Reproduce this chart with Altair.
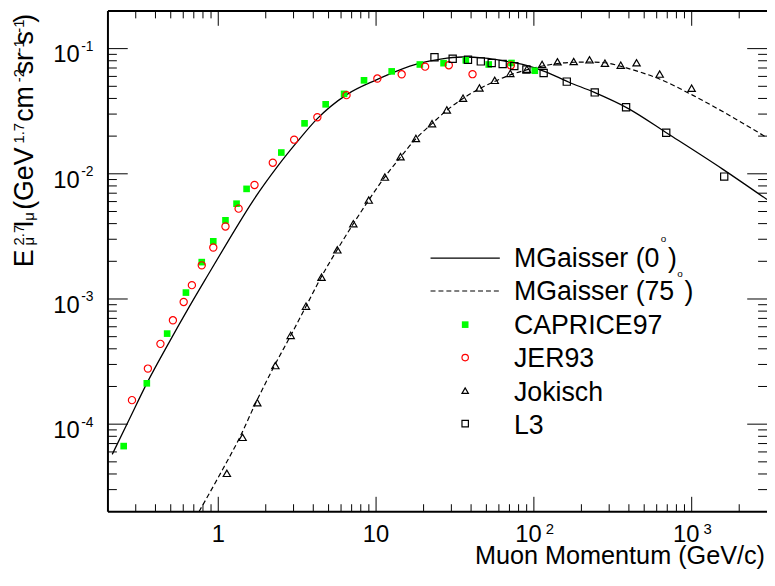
import altair as alt
import pandas as pd

# ---------------- data ----------------
caprice_p = [0.2516, 0.3526, 0.4745, 0.624, 0.786, 0.930, 1.111, 1.306, 1.512, 2.509, 3.522,
             4.793, 6.27, 8.387, 12.56, 18.94, 26.77, 37.03, 51.74, 72.1, 101.3]
caprice_f = [6.68e-5, 2.12e-4, 5.29e-4, 1.125e-3, 1.97e-3, 2.89e-3, 4.25e-3, 5.77e-3, 7.58e-3,
             0.01479, 0.0253, 0.0359, 0.0435, 0.0558, 0.0658, 0.0747, 0.0765, 0.0807, 0.0747,
             0.0768, 0.0666]

jer_p = [0.284, 0.3582, 0.4301, 0.516, 0.6038, 0.6806, 0.786, 0.930, 1.111, 1.346, 1.697, 2.216,
         3.027, 4.246, 6.498, 10.19, 14.53, 20.45, 28.9, 40.85, 71.4]
jer_f = [1.556e-4, 2.78e-4, 4.38e-4, 6.76e-4, 9.47e-4, 1.29e-3, 1.857e-3, 2.576e-3, 3.797e-3,
         5.27e-3, 8.14e-3, 0.01226, 0.01874, 0.02833, 0.0425, 0.0577, 0.0624, 0.0718, 0.0737,
         0.0625, 0.0734]

jok_p = [1.134, 1.426, 1.767, 2.301, 2.877, 3.597, 4.511, 5.683, 7.178, 8.989, 11.37, 14.28, 17.88,
         22.62, 28.08, 35.56, 45.18, 56.49, 70.86, 90.28, 112.7, 141.1, 178.8, 225.2, 281.9, 355.1,
         447.3, 626.8, 998.6]
jok_f = [4.05e-5, 7.85e-5, 1.484e-4, 2.938e-4, 5.12e-4, 8.77e-4, 1.492e-3, 2.471e-3, 3.99e-3,
         6.17e-3, 9.42e-3, 0.0137, 0.01915, 0.02517, 0.03235, 0.04024, 0.04855, 0.0558, 0.0634,
         0.0686, 0.0747, 0.0785, 0.0789, 0.0814, 0.0765, 0.0738, 0.0771, 0.0626, 0.0483]

l3_p = [23.45, 30.58, 38.22, 46.1, 54.03, 63.41, 75.16, 89.65, 115.3, 161.6, 243.0, 383.9, 689.5, 1607]
l3_f = [0.0854, 0.0829, 0.0814, 0.0791, 0.0767, 0.0754, 0.0725, 0.0682, 0.0638, 0.0545, 0.0447,
        0.0340, 0.02129, 9.50e-3]

gs0_p = [0.2129, 0.2732, 0.3526, 0.4863, 0.6489, 0.8659, 1.155, 1.656, 2.375, 3.169, 4.229, 6.516,
         10.04, 13.40, 19.22, 25.64, 35.21, 49.07, 65.45, 87.33, 116.5, 167.1, 239.6, 396.9, 706.6,
         1561, 3000]
gs0_f = [5.74e-5, 1.095e-4, 2.117e-4, 4.465e-4, 8.49e-4, 1.576e-3, 2.90e-3, 6.06e-3, 0.01146,
         0.01806, 0.02746, 0.0429, 0.0563, 0.0658, 0.0768, 0.0826, 0.0857, 0.0841, 0.0796, 0.0741,
         0.0658, 0.0539, 0.0449, 0.0332, 0.0209, 0.01095, 6.23e-3]

gs75_p = [0.7549, 1.049, 1.367, 1.737, 2.265, 2.877, 3.608, 4.498, 5.667, 7.178, 8.989, 11.32,
          14.34, 17.88, 22.52, 28.08, 35.56, 45.18, 56.66, 70.86, 89.9, 113.7, 141.1, 179.6, 229.5,
          289, 385.6, 629.5, 1013, 1631, 3000]
gs75_f = [2.0e-5, 4.19e-5, 7.82e-5, 1.498e-4, 2.916e-4, 5.10e-4, 8.80e-4, 1.500e-3, 2.471e-3,
          3.99e-3, 6.17e-3, 9.38e-3, 0.01368, 0.01908, 0.02507, 0.03217, 0.04003, 0.04784, 0.0548,
          0.0617, 0.0676, 0.0727, 0.0761, 0.0778, 0.0782, 0.0768, 0.0701, 0.0569, 0.0425, 0.0306,
          0.01943]

x_domain = [0.2, 3000]
y_domain = [2e-5, 0.2]
x_major = [1, 10, 100, 1000]
x_minor = [0.3, 0.4, 0.5, 0.6, 0.7, 0.8, 0.9, 2, 3, 4, 5, 6, 7, 8, 9, 20, 30, 40, 50, 60, 70, 80,
           90, 200, 300, 400, 500, 600, 700, 800, 900, 2000]
y_major = [1e-4, 1e-3, 1e-2, 1e-1]
y_minor = [3e-5, 4e-5, 5e-5, 6e-5, 7e-5, 8e-5, 9e-5, 2e-4, 3e-4, 4e-4, 5e-4, 6e-4, 7e-4, 8e-4,
           9e-4, 2e-3, 3e-3, 4e-3, 5e-3, 6e-3, 7e-3, 8e-3, 9e-3, 2e-2, 3e-2, 4e-2, 5e-2, 6e-2,
           7e-2, 8e-2, 9e-2]
x_plain_vals = [1, 10]
x_plain_text = ["1", "10"]
x_pow_vals = [100, 1000]
x_pow_exp = ["2", "3"]
y_lab_vals = [1e-4, 1e-3, 1e-2, 1e-1]
y_lab_exp = ["-4", "-3", "-2", "-1"]
x_title = "Muon Momentum (GeV/c)"
legend_labels = ["MGaisser (0", "MGaisser (75", "CAPRICE97", "JER93", "Jokisch", "L3"]

# ---------------- chart ----------------
W, H = 666, 506
FONT = "Liberation Sans"
xsc = alt.Scale(type="log", domain=x_domain, nice=False)
ysc = alt.Scale(type="log", domain=y_domain, nice=False)
X = alt.X("p:Q", scale=xsc, axis=None)
Y = alt.Y("f:Q", scale=ysc, axis=None)


def series(p, f):
    return pd.DataFrame({"p": p, "f": f})


def text(s, x, y, size, angle=0, align="left", baseline="alphabetic"):
    return alt.Chart(pd.DataFrame({"t": [s]})).mark_text(
        font=FONT, fontSize=size, angle=angle, align=align, baseline=baseline, color="black"
    ).encode(text="t:N", x=alt.value(x), y=alt.value(y))


layers = []

# curves
layers.append(alt.Chart(series(gs0_p, gs0_f)).mark_line(
    color="black", strokeWidth=1.3, clip=True, interpolate="monotone").encode(X, Y))
layers.append(alt.Chart(series(gs75_p, gs75_f)).mark_line(
    color="black", strokeWidth=1.2, strokeDash=[5, 3], clip=True, interpolate="monotone").encode(X, Y))

# points
layers.append(alt.Chart(series(caprice_p, caprice_f)).mark_point(
    shape="square", filled=True, color="#00ff00", size=45, opacity=1).encode(X, Y))
layers.append(alt.Chart(series(jer_p, jer_f)).mark_point(
    shape="circle", filled=False, color="#ff0000", size=53, strokeWidth=1.2, opacity=1).encode(X, Y))
layers.append(alt.Chart(series(jok_p, jok_f)).mark_point(
    shape="triangle-up", filled=False, color="black", size=55, strokeWidth=1.2, opacity=1).encode(X, Y))
layers.append(alt.Chart(series(l3_p, l3_f)).mark_point(
    shape="square", filled=False, color="black", size=53, strokeWidth=1.2, opacity=1).encode(X, Y))

# frame (left, top, bottom)
frame = pd.DataFrame({"t": [0]})
layers.append(alt.Chart(frame).mark_rule(color="black", strokeWidth=2).encode(
    x=alt.value(0), y=alt.value(0), y2=alt.value(H)))
layers.append(alt.Chart(frame).mark_rule(color="black", strokeWidth=2).encode(
    x=alt.value(0), x2=alt.value(W), y=alt.value(0)))
layers.append(alt.Chart(frame).mark_rule(color="black", strokeWidth=2).encode(
    x=alt.value(0), x2=alt.value(W), y=alt.value(H)))

# ticks (inside, on all four sides)
xmaj = pd.DataFrame({"p": x_major})
xmin = pd.DataFrame({"p": x_minor})
ymaj = pd.DataFrame({"f": y_major})
ymin = pd.DataFrame({"f": y_minor})
tick = dict(color="black", strokeWidth=1)
layers += [
    alt.Chart(xmaj).mark_rule(**tick).encode(x=X, y=alt.value(H), y2=alt.value(H - 15)),
    alt.Chart(xmaj).mark_rule(**tick).encode(x=X, y=alt.value(0), y2=alt.value(15)),
    alt.Chart(xmin).mark_rule(**tick).encode(x=X, y=alt.value(H), y2=alt.value(H - 7.5)),
    alt.Chart(xmin).mark_rule(**tick).encode(x=X, y=alt.value(0), y2=alt.value(7.5)),
    alt.Chart(ymaj).mark_rule(**tick).encode(y=Y, x=alt.value(0), x2=alt.value(20)),
    alt.Chart(ymaj).mark_rule(**tick).encode(y=Y, x=alt.value(W), x2=alt.value(W - 20)),
    alt.Chart(ymin).mark_rule(**tick).encode(y=Y, x=alt.value(0), x2=alt.value(9)),
    alt.Chart(ymin).mark_rule(**tick).encode(y=Y, x=alt.value(W), x2=alt.value(W - 9)),
]

# tick labels
layers.append(alt.Chart(pd.DataFrame({"p": x_plain_vals, "t": x_plain_text})).mark_text(
    font=FONT, fontSize=24, align="center", baseline="alphabetic", color="black").encode(
    x=X, y=alt.value(537), text="t:N"))
layers.append(alt.Chart(pd.DataFrame({"p": x_pow_vals, "t": ["10", "10"]})).mark_text(
    font=FONT, fontSize=24, align="center", baseline="alphabetic", dx=-5.5, color="black").encode(
    x=X, y=alt.value(537), text="t:N"))
layers.append(alt.Chart(pd.DataFrame({"p": x_pow_vals, "t": x_pow_exp})).mark_text(
    font=FONT, fontSize=15, align="left", baseline="alphabetic", dx=12, color="black").encode(
    x=X, y=alt.value(528.5), text="t:N"))
layers.append(alt.Chart(pd.DataFrame({"f": y_lab_vals, "t": ["10"] * 4})).mark_text(
    font=FONT, fontSize=24, align="right", baseline="alphabetic", dy=14, color="black").encode(
    y=Y, x=alt.value(-28.5), text="t:N"))
layers.append(alt.Chart(pd.DataFrame({"f": y_lab_vals, "t": y_lab_exp})).mark_text(
    font=FONT, fontSize=14, align="left", baseline="alphabetic", dy=2.5, color="black").encode(
    y=Y, x=alt.value(-27), text="t:N"))

# axis titles
layers.append(text(x_title, 664, 558.7, 25.5, align="right"))
ytitle = [("E", -76, 259, 27), ("2.7", -85, 237, 15), ("\u03bc", -74.5, 237, 15),
          ("I", -76, 219, 27), ("\u03bc", -74.5, 212, 15), ("(GeV", -76, 201, 27),
          ("1.7", -85, 134, 15), ("cm", -76, 112, 27), ("-2", -85, 72, 15),
          ("sr", -76, 64, 27), ("-1", -85, 42, 15), ("s", -76, 34, 27),
          ("-1", -85, 22, 15), (")", -76, 12, 27)]
for s, x, y, size in ytitle:
    layers.append(text(s, x, y, size, angle=270))

# legend
layers.append(alt.Chart(frame).mark_rule(color="black", strokeWidth=1.3).encode(
    x=alt.value(326), x2=alt.value(396), y=alt.value(249.7)))
layers.append(alt.Chart(frame).mark_rule(color="black", strokeWidth=1.2, strokeDash=[5, 3]).encode(
    x=alt.value(326), x2=alt.value(396), y=alt.value(283)))
layers.append(alt.Chart(frame).mark_point(shape="square", filled=True, color="#00ff00", size=45,
                                          opacity=1).encode(x=alt.value(361), y=alt.value(317)))
layers.append(alt.Chart(frame).mark_point(shape="circle", filled=False, color="#ff0000", size=42,
                                          strokeWidth=1.2, opacity=1).encode(x=alt.value(361), y=alt.value(350.3)))
layers.append(alt.Chart(frame).mark_point(shape="triangle-up", filled=False, color="black", size=42,
                                          strokeWidth=1.2, opacity=1).encode(x=alt.value(361), y=alt.value(383.7)))
layers.append(alt.Chart(frame).mark_point(shape="square", filled=False, color="black", size=42,
                                          strokeWidth=1.2, opacity=1).encode(x=alt.value(361), y=alt.value(417)))
leg_base = [258.7, 292.5, 326.4, 360.3, 394.2, 428]
for s, yb in zip(legend_labels, leg_base):
    layers.append(text(s, 410.3, yb, 27))
layers.append(text("o", 558.7, 233.7, 10))
layers.append(text(")", 566, 258.7, 27))
layers.append(text("o", 575.3, 268.7, 10))
layers.append(text(")", 582.7, 292.5, 27))

chart = alt.layer(*layers).properties(
    width=W, height=H,
    autosize=alt.AutoSizeParams(type="none"),
    padding={"left": 101, "top": 0, "right": 0, "bottom": 58},
).configure_view(stroke=None)

chart.save("out.html", embed_options={"renderer": "svg", "actions": False})
